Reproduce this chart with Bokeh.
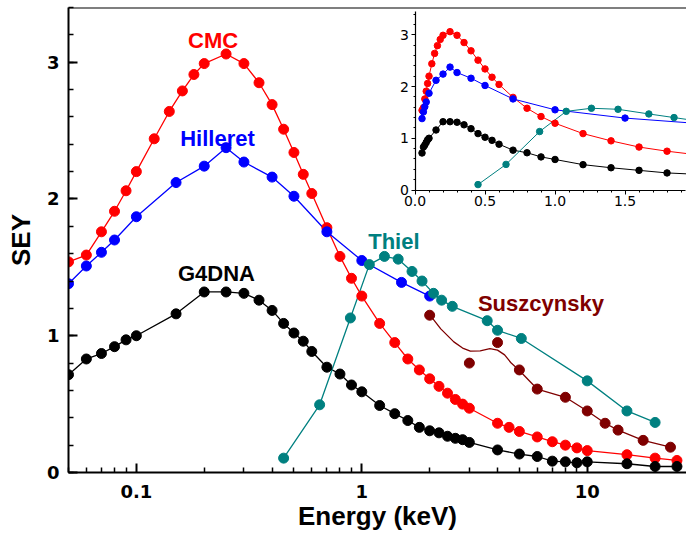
from bokeh.plotting import figure
from bokeh.models import (Range1d, LinearScale, LinearAxis, FixedTicker, SingleIntervalTicker,
                          CustomJSTickFormatter, PrintfTickFormatter, Label, Span)
from bokeh.embed import file_html
from bokeh.resources import INLINE

# ---------------- data ----------------
cmc_x = [0.05, 0.06, 0.07, 0.08, 0.09, 0.1, 0.12, 0.14, 0.16, 0.18, 0.2, 0.25, 0.3, 0.35, 0.4, 0.45,
         0.5, 0.55, 0.6, 0.7, 0.8, 0.9, 1.0, 1.2, 1.4, 1.6, 1.8, 2.0, 2.2, 2.4, 2.6, 2.8, 3.0, 4.0,
         4.5, 5.0, 6.0, 7.0, 8.0, 9.0, 10, 15, 20, 25]
cmc_y = [1.54, 1.59, 1.76, 1.91, 2.06, 2.20, 2.44, 2.64, 2.79, 2.91, 2.99, 3.06, 2.99, 2.85, 2.69, 2.51,
         2.34, 2.18, 2.04, 1.79, 1.58, 1.42, 1.29, 1.09, 0.95, 0.83, 0.75, 0.685, 0.63, 0.58, 0.534, 0.50,
         0.47, 0.36, 0.33, 0.30, 0.26, 0.225, 0.20, 0.18, 0.16, 0.13, 0.105, 0.088]

hill_x = [0.05, 0.06, 0.07, 0.08, 0.1, 0.15, 0.2, 0.25, 0.3, 0.4, 0.5, 0.7, 1.0, 1.5, 2.0]
hill_y = [1.38, 1.51, 1.61, 1.70, 1.87, 2.12, 2.24, 2.375, 2.27, 2.16, 2.02, 1.76, 1.55, 1.39, 1.29]

g4_x = [0.05, 0.06, 0.07, 0.08, 0.09, 0.1, 0.15, 0.2, 0.25, 0.3, 0.35, 0.4, 0.45, 0.5, 0.55, 0.6, 0.7,
        0.8, 0.9, 1.0, 1.2, 1.4, 1.6, 1.8, 2.0, 2.2, 2.4, 2.6, 2.8, 3.0, 4.0, 5.0, 6.0, 7.0, 8.0, 9.0,
        10, 15, 20, 25]
g4_y = [0.715, 0.83, 0.87, 0.92, 0.97, 1.00, 1.16, 1.32, 1.32, 1.31, 1.26, 1.185, 1.09, 1.02, 0.96, 0.885,
        0.77, 0.72, 0.64, 0.59, 0.49, 0.43, 0.38, 0.33, 0.305, 0.29, 0.265, 0.25, 0.24, 0.22, 0.165, 0.135,
        0.117, 0.083, 0.078, 0.071, 0.078, 0.064, 0.044, 0.044]

thiel_x = [0.45, 0.65, 0.89, 1.08, 1.26, 1.45, 1.67, 1.85, 2.08, 2.26, 2.52, 3.6, 4.0, 5.1, 10, 15, 20]
thiel_y = [0.105, 0.495, 1.13, 1.52, 1.58, 1.56, 1.47, 1.40, 1.31, 1.26, 1.215, 1.11, 1.04, 0.98, 0.67,
           0.45, 0.366]

susz_x = [2.0, 3.0, 4.0, 5.0, 6.0, 8.0, 10, 12, 13.7, 17.7, 23.4]
susz_y = [1.15, 0.80, 0.95, 0.75, 0.61, 0.55, 0.45, 0.36, 0.31, 0.235, 0.185]
# smoothed fit curve drawn through the Suszcynsky points
susz_fit_x = [2.0, 2.24, 2.56, 2.8, 3.03, 3.35, 3.7, 4.0, 4.3, 4.6, 5.0, 6.0, 8.0, 10, 12, 13.7, 17.7, 23.4]
susz_fit_y = [1.154, 1.05, 0.955, 0.91, 0.887, 0.89, 0.905, 0.895, 0.86, 0.80, 0.746, 0.61, 0.55, 0.45,
              0.36, 0.31, 0.235, 0.185]

x_major_ticks = [0.1, 1, 10]
x_minor_ticks = [0.05, 0.06, 0.07, 0.08, 0.09, 0.2, 0.3, 0.4, 0.5, 0.6, 0.7, 0.8, 0.9,
                 2, 3, 4, 5, 6, 7, 8, 9, 20]
series_names = ["CMC", "Hilleret", "G4DNA", "Thiel", "Suszcynsky"]
colors = ["#ff0000", "#0000ff", "#000000", "#008080", "#7f0000"]

# ---------------- figure ----------------
p = figure(width=686, height=536, x_axis_type="log",
           x_range=Range1d(0.05, 27.56), y_range=Range1d(0, 3.4),
           output_backend="svg", toolbar_location=None,
           min_border_left=68, min_border_right=0, min_border_top=7, min_border_bottom=64)
p.outline_line_color = None
p.grid.visible = False
p.background_fill_color = "white"
p.border_fill_color = "white"

# main x axis
xa = p.xaxis[0]
xa.ticker = FixedTicker(ticks=x_major_ticks, minor_ticks=x_minor_ticks)
xa.formatter = CustomJSTickFormatter(code="return String(tick)")
xa.axis_label = "Energy (keV)"
# main y axis
ya = p.yaxis[0]
ya.ticker = SingleIntervalTicker(interval=1, num_minor_ticks=5)
ya.formatter = PrintfTickFormatter(format="%d")
ya.axis_label = "SEY"
for ax in (xa, ya):
    ax.axis_line_width = 2
    ax.axis_line_color = "black"
    ax.major_tick_in = 9
    ax.major_tick_out = 0
    ax.minor_tick_in = 5
    ax.minor_tick_out = 0
    ax.major_tick_line_width = 2
    ax.minor_tick_line_width = 1.5
    ax.major_tick_line_color = "black"
    ax.minor_tick_line_color = "black"
    ax.major_label_text_font = "DejaVu Sans"
    ax.major_label_text_font_style = "bold"
    ax.major_label_text_font_size = "18px"
    ax.major_label_text_color = "black"
    ax.axis_label_text_font = "Liberation Sans"
    ax.axis_label_text_font_style = "bold"
    ax.axis_label_text_font_size = "26px"
    ax.axis_label_text_color = "black"
xa.major_label_standoff = 12
xa.axis_label_standoff = 0
ya.major_label_standoff = 9
ya.axis_label_standoff = 8

# top frame line
p.add_layout(Span(location=3.4, dimension="width", line_color="black", line_width=2))

# ---------------- main series ----------------
data = [(cmc_x, cmc_y), (hill_x, hill_y), (g4_x, g4_y), (thiel_x, thiel_y)]
for (xs, ys), c in zip(data, colors[:4]):
    p.line(xs, ys, line_color=c, line_width=1.3)
p.line(susz_fit_x, susz_fit_y, line_color=colors[4], line_width=1.3)
for (xs, ys), c in zip(data + [(susz_x, susz_y)], colors):
    p.scatter(xs, ys, size=10, fill_color=c, line_color=c, marker="circle")

# series labels
label_pos = [(0.219, 3.16), (0.229, 2.44), (0.2265, 1.453), (1.388, 1.69), (6.23, 1.235)]
for name, (lx, ly), c in zip(series_names, label_pos, colors):
    p.add_layout(Label(x=lx, y=ly, text=name, text_color=c, text_font="Liberation Sans",
                       text_font_style="bold", text_font_size="22px",
                       text_align="center", text_baseline="alphabetic"))

# ---------------- inset (linear energy axis) ----------------
p.extra_x_ranges = {"inset": Range1d(-2.475, 1.939)}
p.extra_x_scales = {"inset": LinearScale()}
p.extra_y_ranges = {"inset_y": Range1d(-5.459, 3.527)}

ix = LinearAxis(x_range_name="inset", y_range_name="inset_y", fixed_location=0, bounds=(0, 1.93),
                ticker=SingleIntervalTicker(interval=0.5, num_minor_ticks=5),
                formatter=PrintfTickFormatter(format="%.1f"))
iy = LinearAxis(x_range_name="inset", y_range_name="inset_y", fixed_location=0, bounds=(0, 3.45),
                ticker=SingleIntervalTicker(interval=1, num_minor_ticks=5),
                formatter=PrintfTickFormatter(format="%d"))
for ax in (ix, iy):
    ax.axis_line_width = 1.2
    ax.major_tick_in = 0
    ax.major_tick_out = 4
    ax.minor_tick_in = 0
    ax.minor_tick_out = 2
    ax.major_label_standoff = 2
    ax.major_label_text_font = "DejaVu Sans"
    ax.major_label_text_font_size = "14px"
    ax.major_label_text_color = "black"
p.add_layout(ix, "below")
p.add_layout(iy, "left")

for (xs, ys), c in zip(data, colors[:4]):
    p.line(xs, ys, line_color=c, line_width=1, x_range_name="inset", y_range_name="inset_y")
for (xs, ys), c in zip(data, colors[:4]):
    p.scatter(xs, ys, size=6.5, fill_color=c, line_color=c, marker="circle",
              x_range_name="inset", y_range_name="inset_y")

open("out.html", "w").write(file_html(p, INLINE))
